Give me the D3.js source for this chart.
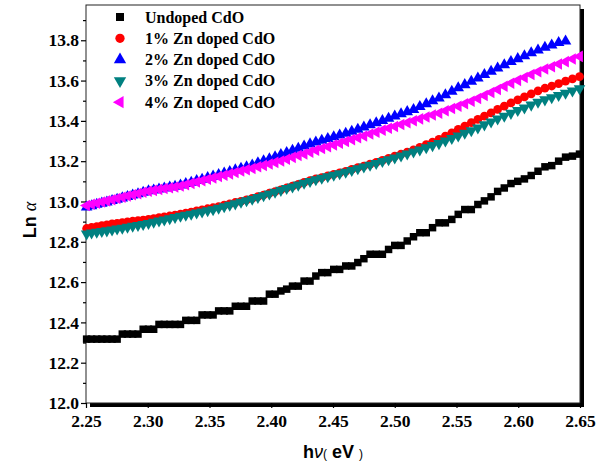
<!DOCTYPE html>
<html>
<head>
<meta charset="utf-8">
<script src="https://cdn.jsdelivr.net/npm/d3@7/dist/d3.min.js"></script>
<style>
  html, body { margin: 0; padding: 0; background: #fff; }
  svg { display: block; }
</style>
</head>
<body>
<svg id="chart" width="608" height="466"></svg>
<script>
// Photon energy (eV) of each measured point
const hv = [
  2.2505, 2.2545, 2.2587, 2.2628, 2.2669, 2.2711, 2.2752, 2.2794, 2.2836, 2.2878,
  2.2921, 2.2963, 2.3006, 2.3048, 2.3091, 2.3134, 2.3178, 2.3221, 2.3265, 2.3308,
  2.3352, 2.3396, 2.3440, 2.3485, 2.3529, 2.3574, 2.3619, 2.3664, 2.3709, 2.3755,
  2.3800, 2.3846, 2.3892, 2.3938, 2.3985, 2.4031, 2.4078, 2.4125, 2.4172, 2.4219,
  2.4266, 2.4314, 2.4361, 2.4409, 2.4458, 2.4506, 2.4554, 2.4603, 2.4652, 2.4701,
  2.4750, 2.4800, 2.4850, 2.4900, 2.4950, 2.5000, 2.5051, 2.5101, 2.5152, 2.5203,
  2.5255, 2.5306, 2.5358, 2.5410, 2.5462, 2.5514, 2.5567, 2.5620, 2.5673, 2.5726,
  2.5780, 2.5833, 2.5887, 2.5941, 2.5996, 2.6050, 2.6105, 2.6160, 2.6216, 2.6271,
  2.6327, 2.6383, 2.6439, 2.6496
];

// Ln(alpha) for each film
const undoped = [
  12.317, 12.317, 12.317, 12.317, 12.317, 12.317, 12.317, 12.342, 12.342, 12.342,
  12.342, 12.366, 12.366, 12.366, 12.390, 12.390, 12.390, 12.390, 12.390, 12.410,
  12.410, 12.410, 12.437, 12.437, 12.437, 12.457, 12.457, 12.457, 12.480, 12.480,
  12.480, 12.506, 12.506, 12.506, 12.540, 12.540, 12.556, 12.565, 12.580, 12.580,
  12.605, 12.605, 12.630, 12.647, 12.647, 12.663, 12.663, 12.680, 12.680, 12.697,
  12.716, 12.738, 12.738, 12.738, 12.762, 12.782, 12.782, 12.804, 12.825, 12.845,
  12.845, 12.870, 12.894, 12.894, 12.911, 12.936, 12.960, 12.960, 12.985, 13.003,
  13.023, 13.050, 13.067, 13.089, 13.100, 13.112, 13.129, 13.150, 13.172, 13.178,
  13.200, 13.220, 13.225, 13.235
];

const zn1 = [
  12.866, 12.871, 12.875, 12.880, 12.884, 12.889, 12.892, 12.895, 12.899, 12.902,
  12.905, 12.908, 12.911, 12.915, 12.920, 12.924, 12.928, 12.932, 12.937, 12.942,
  12.947, 12.953, 12.958, 12.964, 12.969, 12.975, 12.982, 12.988, 12.995, 13.001,
  13.008, 13.015, 13.024, 13.032, 13.041, 13.049, 13.058, 13.067, 13.076, 13.085,
  13.095, 13.104, 13.112, 13.119, 13.127, 13.135, 13.142, 13.150, 13.159, 13.168,
  13.176, 13.185, 13.194, 13.204, 13.214, 13.225, 13.235, 13.245, 13.256, 13.269,
  13.282, 13.295, 13.308, 13.324, 13.341, 13.358, 13.374, 13.391, 13.407, 13.424,
  13.440, 13.457, 13.473, 13.489, 13.504, 13.519, 13.534, 13.549, 13.562, 13.573,
  13.585, 13.597, 13.608, 13.620
];

const zn2 = [
  12.972, 12.978, 12.985, 12.991, 12.997, 13.004, 13.010, 13.017, 13.024, 13.031,
  13.038, 13.045, 13.052, 13.056, 13.061, 13.066, 13.071, 13.075, 13.081, 13.088,
  13.095, 13.103, 13.110, 13.118, 13.125, 13.133, 13.140, 13.148, 13.156, 13.164,
  13.171, 13.180, 13.191, 13.201, 13.211, 13.221, 13.232, 13.242, 13.253, 13.263,
  13.274, 13.285, 13.294, 13.303, 13.312, 13.320, 13.329, 13.338, 13.348, 13.358,
  13.369, 13.380, 13.390, 13.401, 13.412, 13.423, 13.434, 13.445, 13.456, 13.470,
  13.484, 13.499, 13.513, 13.529, 13.546, 13.563, 13.579, 13.596, 13.612, 13.629,
  13.645, 13.662, 13.678, 13.694, 13.708, 13.722, 13.737, 13.751, 13.764, 13.776,
  13.788, 13.795
];

const zn3 = [
  12.840, 12.844, 12.848, 12.852, 12.855, 12.859, 12.864, 12.868, 12.873, 12.878,
  12.882, 12.887, 12.892, 12.898, 12.904, 12.909, 12.915, 12.921, 12.927, 12.933,
  12.938, 12.944, 12.949, 12.955, 12.960, 12.967, 12.975, 12.982, 12.989, 12.997,
  13.004, 13.012, 13.021, 13.029, 13.038, 13.047, 13.056, 13.065, 13.073, 13.082,
  13.091, 13.100, 13.109, 13.116, 13.124, 13.131, 13.139, 13.146, 13.155, 13.163,
  13.172, 13.181, 13.189, 13.199, 13.208, 13.217, 13.227, 13.236, 13.246, 13.256,
  13.267, 13.278, 13.288, 13.301, 13.313, 13.326, 13.339, 13.352, 13.366, 13.381,
  13.395, 13.410, 13.424, 13.438, 13.452, 13.465, 13.479, 13.493, 13.505, 13.516,
  13.527, 13.538, 13.549, 13.560
];

const zn4 = [
  12.980, 12.986, 12.991, 12.997, 13.003, 13.009, 13.015, 13.021, 13.027, 13.033,
  13.039, 13.046, 13.051, 13.055, 13.060, 13.064, 13.068, 13.072, 13.077, 13.083,
  13.090, 13.097, 13.103, 13.110, 13.117, 13.124, 13.130, 13.137, 13.144, 13.151,
  13.158, 13.164, 13.172, 13.179, 13.186, 13.194, 13.201, 13.210, 13.219, 13.228,
  13.236, 13.245, 13.254, 13.263, 13.272, 13.280, 13.289, 13.298, 13.307, 13.316,
  13.325, 13.335, 13.344, 13.354, 13.363, 13.372, 13.382, 13.391, 13.401, 13.410,
  13.419, 13.429, 13.438, 13.450, 13.461, 13.473, 13.485, 13.497, 13.511, 13.526,
  13.541, 13.556, 13.572, 13.587, 13.601, 13.615, 13.630, 13.644, 13.657, 13.669,
  13.682, 13.694, 13.707, 13.720
];

const seriesNames = ["Undoped CdO", "1% Zn doped CdO", "2% Zn doped CdO", "3% Zn doped CdO", "4% Zn doped CdO"];
const seriesValues = [undoped, zn1, zn2, zn3, zn4];
const seriesColors = ["#000000", "#ff0000", "#0000ff", "#008080", "#ff00ff"];

const xTicks = [2.25, 2.30, 2.35, 2.40, 2.45, 2.50, 2.55, 2.60, 2.65];
const yTicks = [12.0, 12.2, 12.4, 12.6, 12.8, 13.0, 13.2, 13.4, 13.6, 13.8];
const yMinorTicks = [12.1, 12.3, 12.5, 12.7, 12.9, 13.1, 13.3, 13.5, 13.7, 13.9];

const svg = d3.select("#chart");
const L = 86, R = 580, T = 5, B = 403;

const x = d3.scaleLinear().domain([2.25, 2.65]).range([L, R]);
const y = d3.scaleLinear().domain([12.0, 13.975]).range([B, T]);

// Frame with drop shadow
svg.append("rect").attr("x", L + 4).attr("y", T + 4)
  .attr("width", R - L).attr("height", B - T).attr("fill", "#000");
svg.append("rect").attr("x", L).attr("y", T)
  .attr("width", R - L).attr("height", B - T)
  .attr("fill", "#fff").attr("stroke", "#222").attr("stroke-width", 1);

// Axes
const tickFont = "'Liberation Serif', 'Times New Roman', serif";

const yAxis = svg.append("g").attr("transform", `translate(${L},0)`)
  .call(d3.axisLeft(y).tickValues(yTicks).tickFormat(d3.format(".1f")).tickSize(5).tickPadding(2));
const yMinor = svg.append("g").attr("transform", `translate(${L},0)`)
  .call(d3.axisLeft(y).tickValues(yMinorTicks).tickFormat("").tickSize(3));
const xAxis = svg.append("g").attr("transform", `translate(0,${B})`)
  .call(d3.axisBottom(x).tickValues(xTicks).tickFormat(d3.format(".2f")).tickSize(5).tickPadding(7));

[yAxis, yMinor, xAxis].forEach(g => {
  g.select(".domain").remove();
  g.selectAll(".tick line").attr("stroke", "#000").attr("stroke-width", 1.2);
  g.selectAll("text").attr("fill", "#000")
    .style("font-family", tickFont).style("font-weight", "bold").style("font-size", "17.5px");
});

// Series: connecting line under the symbols
const symbolTypes = [d3.symbolSquare, d3.symbolCircle, d3.symbolTriangle, d3.symbolTriangle, d3.symbolTriangle];
const symbolRot = [0, 0, 0, 180, -90];
const symbolSize = [56, 60, 58, 58, 58];

const plot = svg.append("g");
seriesValues.forEach((vals, i) => {
  const pts = vals.map((v, j) => [hv[j], v]);
  plot.append("path")
    .attr("d", d3.line().x(d => x(d[0])).y(d => y(d[1]))(pts))
    .attr("fill", "none").attr("stroke", seriesColors[i]).attr("stroke-width", 1.2);
  plot.selectAll(null).data(pts).join("path")
    .attr("d", d3.symbol().type(symbolTypes[i]).size(symbolSize[i]))
    .attr("transform", d => `translate(${x(d[0])},${y(d[1])}) rotate(${symbolRot[i]})`)
    .attr("fill", seriesColors[i]);
});

// Legend
const legend = svg.append("g");
seriesNames.forEach((name, i) => {
  const ly = 17 + i * 21.3;
  legend.append("path")
    .attr("d", d3.symbol().type(symbolTypes[i]).size(symbolSize[i] + 8)())
    .attr("transform", `translate(120,${ly}) rotate(${symbolRot[i]})`)
    .attr("fill", seriesColors[i]);
  legend.append("text")
    .attr("x", 145).attr("y", ly + 5.5)
    .text(name)
    .style("font-family", tickFont).style("font-weight", "bold").style("font-size", "16px");
});

// Axis titles
const sans = "'Liberation Sans', Arial, sans-serif";
const xt = svg.append("text").attr("x", 333).attr("y", 458).attr("text-anchor", "middle")
  .style("font-family", sans).style("font-weight", "bold").style("font-size", "18px");
xt.append("tspan").text("h");
xt.append("tspan").text("ν").style("font-style", "italic").style("font-weight", "normal");
xt.append("tspan").text("(").style("font-size", "12px").style("font-weight", "normal");
xt.append("tspan").text(" eV ");
xt.append("tspan").text(")").style("font-size", "12px").style("font-weight", "normal");

const yt = svg.append("text").attr("transform", "translate(36,220) rotate(-90)")
  .attr("text-anchor", "middle")
  .style("font-family", sans).style("font-weight", "bold").style("font-size", "18px");
yt.append("tspan").text("Ln ");
yt.append("tspan").text("α").style("font-style", "italic").style("font-weight", "normal")
  .style("font-family", tickFont);
</script>
</body>
</html>
